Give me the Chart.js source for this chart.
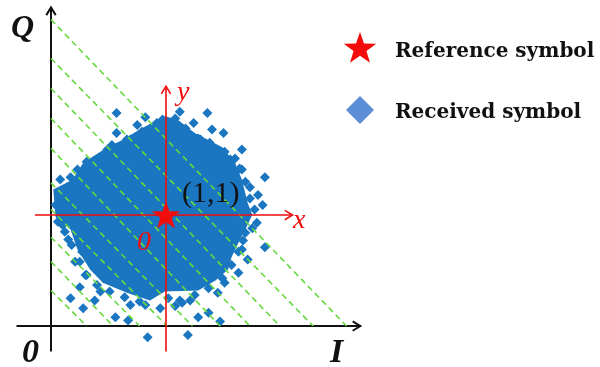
<!DOCTYPE html>
<html>
<head>
<meta charset="utf-8">
<script src="https://cdn.jsdelivr.net/npm/chart.js@4.4.0/dist/chart.umd.min.js"></script>
<style>
  html, body { margin: 0; padding: 0; background: #fff; }
  #wrap { width: 600px; height: 367px; position: relative; }
</style>
</head>
<body>
<div id="wrap"><canvas id="iq"></canvas></div>
<script>
const blue = "#1a76c0";
const legendBlue = "#5b8ed6";
const red = "#f20c0c";
const green = "#66d93f";
const serif = "'Liberation Serif', serif";

// reference constellation point
const refX = [1];
const refY = [1];

// received symbols around the edge of the cloud
const rxX = [0.57, 0.75, 0.92, 0.57, 0.66, 0.49, 0.43, 0.31, 0.23, 0.17, 0.08, 0.14, 0.28, 0.36, 0.53, 0.82,
  1.12, 1.36, 1.24, 1.40, 1.50, 1.66, 1.66, 1.86, 1.73, 1.56, 1.30, 1.05,
  1.84, 1.80, 1.79, 1.69, 1.86, 1.66, 1.71, 1.63, 1.51, 1.45,
  1.37, 1.28, 1.47, 1.19, 1.14, 1.08, 1.21, 0.95, 0.82, 0.84, 0.67, 0.56, 0.69, 0.43,
  0.38, 0.28, 0.17, 0.25, 0.30, 0.21, 0.27, 0.15, 0.10,
  0.08, 0.17, 0.23, 0.34, 0.41, 0.51, 0.60, 0.69, 0.79, 0.88, 0.97,
  1.08, 1.17, 1.28, 1.38, 1.51, 1.60, 1.64, 1.69, 1.73, 1.77,
  1.75, 1.67, 1.63, 1.57, 1.49, 1.37, 1.25, 1.12, 1.02,
  0.77, 0.64, 0.51, 0.40, 0.31, 0.25, 0.18, 0.12, 0.06, 0.04];
const rxY = [1.92, 1.81, 1.83, 1.74, 1.68, 1.59, 1.50, 1.48, 1.41, 1.34, 1.32, 1.25, 1.32, 1.41, 1.63, 1.88,
  1.93, 1.92, 1.83, 1.77, 1.74, 1.59, 1.41, 1.34, 1.25, 1.50, 1.68, 1.80,
  1.09, 1.18, 0.93, 0.84, 0.71, 0.69, 0.60, 0.48, 0.39, 0.30,
  0.12, 0.08, 0.04, -0.08, 0.21, 0.18, 0.23, 0.16, 0.19, -0.10, 0.05, 0.08, 0.19, 0.31,
  0.23, 0.16, 0.25, 0.35, 0.46, 0.58, 0.67, 0.78, 0.91,
  1.18, 1.24, 1.33, 1.39, 1.45, 1.54, 1.60, 1.68, 1.75, 1.79, 1.86,
  1.87, 1.78, 1.69, 1.65, 1.57, 1.51, 1.42, 1.30, 1.15, 1.05,
  0.88, 0.77, 0.67, 0.55, 0.43, 0.34, 0.28, 0.23, 0.25,
  0.22, 0.26, 0.31, 0.37, 0.46, 0.58, 0.73, 0.85, 0.94, 1.09];

// outline of the dense part of the received cloud
const coreX = [0.86, 0.99, 1.10, 1.25, 1.49, 1.60, 1.66, 1.71, 1.75, 1.69, 1.63, 1.57, 1.54, 1.43, 1.28,
  0.99, 0.86, 0.66, 0.45, 0.34, 0.23, 0.17, 0.04, 0.02, 0.19, 0.28, 0.49, 0.63, 0.77];
const coreY = [1.82, 1.89, 1.86, 1.74, 1.61, 1.47, 1.32, 1.11, 1.00, 0.87, 0.75, 0.62, 0.51, 0.41, 0.32,
  0.31, 0.23, 0.30, 0.39, 0.51, 0.69, 0.87, 0.98, 1.23, 1.32, 1.47, 1.61, 1.68, 1.77];

// dashed lines x + y = c, given by where they cut the I and Q axes
const lineI = [0.31, 0.54, 0.77, 1.01, 1.23, 1.47, 1.73, 1.99, 2.28, 2.57];
const lineQ = [0.32, 0.58, 0.80, 1.05, 1.29, 1.60, 1.87, 2.14, 2.41, 2.76];

function starCanvas(r, color) {
  const c = document.createElement("canvas");
  const s = Math.ceil(r * 2 + 2);
  c.width = c.height = s;
  const g = c.getContext("2d");
  g.fillStyle = color;
  g.beginPath();
  for (let k = 0; k < 10; k++) {
    const rad = k % 2 ? r * 0.4 : r;
    const a = -Math.PI / 2 + k * Math.PI / 5;
    g.lineTo(s / 2 + rad * Math.cos(a), s / 2 + 1 + rad * Math.sin(a));
  }
  g.closePath();
  g.fill();
  return c;
}

function arrow(ctx, x1, y1, x2, y2, color, width) {
  const a = Math.atan2(y2 - y1, x2 - x1);
  ctx.strokeStyle = color;
  ctx.lineWidth = width;
  ctx.beginPath();
  ctx.moveTo(x1, y1);
  ctx.lineTo(x2, y2);
  ctx.stroke();
  ctx.beginPath();
  ctx.moveTo(x2 - 9 * Math.cos(a - 0.55), y2 - 9 * Math.sin(a - 0.55));
  ctx.lineTo(x2, y2);
  ctx.lineTo(x2 - 9 * Math.cos(a + 0.55), y2 - 9 * Math.sin(a + 0.55));
  ctx.stroke();
}

const plotStar = starCanvas(15, red);
const legendStar = starCanvas(17, red);

const diagram = {
  id: "diagram",
  beforeDatasetsDraw(chart) {
    const { ctx, scales: { x, y } } = chart;
    const px = v => x.getPixelForValue(v);
    const py = v => y.getPixelForValue(v);
    ctx.save();
    // I / Q axes
    arrow(ctx, px(-0.3), py(0), px(2.69), py(0), "#111", 2);
    arrow(ctx, px(0), py(-0.23), px(0), py(2.87), "#111", 2);
    // dense part of the cloud
    ctx.fillStyle = blue;
    ctx.beginPath();
    coreX.forEach((v, i) => ctx.lineTo(px(v), py(coreY[i])));
    ctx.closePath();
    ctx.fill();
    ctx.restore();
  },
  beforeDatasetDraw(chart, args) {
    if (args.index !== 0) return;
    const { ctx, scales: { x, y } } = chart;
    const cx = x.getPixelForValue(refX[0]);
    const cy = y.getPixelForValue(refY[0]);
    ctx.save();
    // local x / y axes through the reference point
    arrow(ctx, x.getPixelForValue(-0.14), cy, x.getPixelForValue(2.1), cy, red, 1.6);
    arrow(ctx, cx, y.getPixelForValue(-0.23), cx, y.getPixelForValue(2.16), red, 1.6);
    ctx.restore();
  },
  afterDraw(chart) {
    const { ctx, scales: { x, y } } = chart;
    const ox = x.getPixelForValue(0);
    const oy = y.getPixelForValue(0);
    const cx = x.getPixelForValue(refX[0]);
    const cy = y.getPixelForValue(refY[0]);
    ctx.save();
    ctx.textBaseline = "alphabetic";
    ctx.fillStyle = "#111";
    ctx.font = "bold italic 32px " + serif;
    ctx.fillText("Q", ox - 40, 37);
    ctx.font = "bold italic 34px " + serif;
    ctx.fillText("0", ox - 29, oy + 36);
    ctx.fillText("I", ox + 279, oy + 36);
    ctx.font = "30px " + serif;
    ctx.fillText("(1,1)", cx + 16, cy - 13);

    ctx.fillStyle = red;
    ctx.font = "italic 28px " + serif;
    ctx.fillText("y", cx + 11, cy - 115);
    ctx.fillText("x", cx + 127, cy + 13);
    ctx.fillText("0", cx - 29, cy + 35);

    // legend
    ctx.drawImage(legendStar, 360 - legendStar.width / 2, 48 - legendStar.height / 2);
    ctx.fillStyle = legendBlue;
    ctx.beginPath();
    ctx.moveTo(360, 96);
    ctx.lineTo(374, 110);
    ctx.lineTo(360, 124);
    ctx.lineTo(346, 110);
    ctx.closePath();
    ctx.fill();
    ctx.fillStyle = "#111";
    ctx.font = "bold 20px 'DejaVu Serif', serif";
    ctx.fillText("Reference symbol", 395, 57);
    ctx.fillText("Received symbol", 395, 118);
    ctx.restore();
  }
};

const datasets = [
  {
    label: "Reference symbol",
    data: refX.map((v, i) => ({ x: v, y: refY[i] })),
    pointStyle: plotStar,
    order: 0
  },
  {
    label: "Received symbol",
    data: rxX.map((v, i) => ({ x: v, y: rxY[i] })),
    pointStyle: "rectRot",
    pointRadius: 5,
    backgroundColor: blue,
    borderWidth: 0,
    order: 3
  },
  ...lineI.map((xi, k) => ({
    label: "c" + k,
    data: [{ x: 0, y: lineQ[k] }, { x: xi, y: 0 }],
    showLine: true,
    borderColor: green,
    borderWidth: 1.6,
    borderDash: [6, 4],
    pointRadius: 0,
    order: 2
  }))
];

new Chart("iq", {
  type: "scatter",
  data: { datasets },
  options: {
    responsive: true,
    maintainAspectRatio: false,
    animation: false,
    events: [],
    layout: { padding: 0, autoPadding: false },
    plugins: {
      legend: { display: false },
      tooltip: { enabled: false }
    },
    scales: {
      x: { type: "linear", min: -0.4435, max: 4.774, display: false },
      y: { type: "linear", min: -0.369, max: 2.937, display: false }
    }
  },
  plugins: [diagram]
});
</script>
</body>
</html>
